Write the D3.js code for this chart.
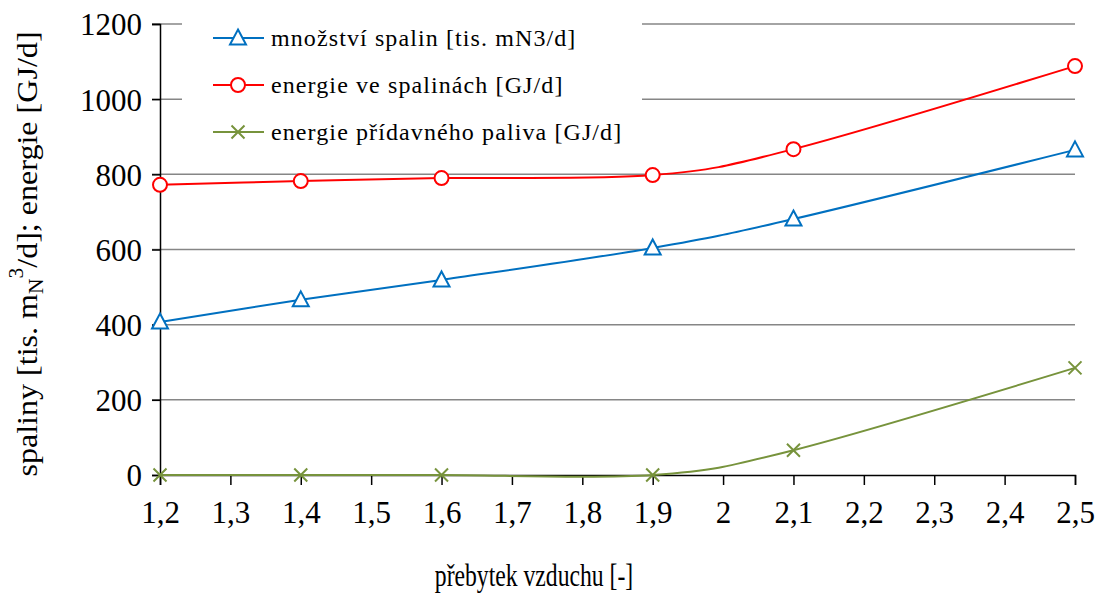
<!DOCTYPE html>
<html>
<head>
<meta charset="utf-8">
<script src="https://cdn.jsdelivr.net/npm/d3@7"></script>
<style>
  body { margin: 0; background: #fff; }
</style>
</head>
<body>
<div id="chart"></div>
<script>
// data
const xValues = [1.2, 1.4, 1.6, 1.9, 2.1, 2.5];
const spaliny = [407, 466, 519, 604, 681, 865];
const energieSpaliny = [772, 782, 790, 798, 867, 1088];
const energiePalivo = [0, 0, 0, 0, 66, 285];
const xTicks = [1.2, 1.3, 1.4, 1.5, 1.6, 1.7, 1.8, 1.9, 2.0, 2.1, 2.2, 2.3, 2.4, 2.5];
const yTicks = [0, 200, 400, 600, 800, 1000, 1200];
const seriesNames = ["množství spalin [tis. mN3/d]", "energie ve spalinách [GJ/d]", "energie přídavného paliva [GJ/d]"];

const colors = ["#0070C0", "#FF0000", "#77933C"];
const symbols = ["triangle", "circle", "cross"];
const FONT = "'Liberation Serif', 'Times New Roman', serif";

const W = 1099, H = 595;
const margin = { left: 160, right: 24, top: 24, bottom: 120 };

const svg = d3.select("#chart").append("svg")
    .attr("width", W).attr("height", H)
    .attr("font-family", FONT);

const x = d3.scaleLinear().domain([1.2, 2.5]).range([margin.left, W - margin.right]);
const y = d3.scaleLinear().domain([0, 1200]).range([H - margin.bottom, margin.top]);

// gridlines
svg.append("g")
    .selectAll("line")
    .data(yTicks.filter(d => d > 0))
    .enter().append("line")
    .attr("x1", x(1.2) - 8).attr("x2", x(2.5))
    .attr("y1", d => y(d)).attr("y2", d => y(d))
    .attr("stroke", "#868686").attr("stroke-width", 1.5);

// y axis
const yAxis = svg.append("g")
    .attr("transform", `translate(${x(1.2)},0)`)
    .call(d3.axisLeft(y).tickValues(yTicks).tickSize(8).tickPadding(10).tickFormat(d3.format("d")));
yAxis.attr("font-family", FONT);
yAxis.select(".domain").attr("stroke", "#000").attr("stroke-width", 1.5);
yAxis.selectAll(".tick line").attr("stroke", "#000").attr("stroke-width", 1.5);
yAxis.selectAll(".tick text").attr("font-size", 31).attr("dy", "0.35em");

// x axis
const xAxis = svg.append("g")
    .attr("transform", `translate(0,${y(0)})`)
    .call(d3.axisBottom(x).tickValues(xTicks).tickSize(10).tickPadding(16)
        .tickFormat(d => d3.format("~g")(d).replace(".", ",")));
xAxis.attr("font-family", FONT);
xAxis.select(".domain").attr("stroke", "#000").attr("stroke-width", 1.5);
xAxis.selectAll(".tick line").attr("stroke", "#000").attr("stroke-width", 1.5);
xAxis.selectAll(".tick text").attr("font-size", 31);

// axis titles (the original text is a bit condensed / stretched)
svg.append("text")
    .attr("transform", "translate(534,586) scale(0.74,1)")
    .attr("text-anchor", "middle").attr("font-size", 32)
    .text("přebytek vzduchu [-]");

const yTitle = svg.append("text")
    .attr("transform", `translate(37,254) rotate(-90) scale(1.07,1)`)
    .attr("text-anchor", "middle").attr("font-size", 30);
yTitle.append("tspan").text("spaliny [tis. m");
yTitle.append("tspan").attr("font-size", 20).attr("dy", 6).text("N");
yTitle.append("tspan").attr("font-size", 20).attr("dy", -20).text("3");
yTitle.append("tspan").attr("dy", 14).text("/d]; energie  [GJ/d]");

// series
const allSeries = [spaliny, energieSpaliny, energiePalivo];
const line = d3.line()
    .x((d, i) => x(xValues[i]))
    .y(d => y(d))
    .curve(d3.curveCatmullRom.alpha(0));

function drawMarker(g, type, color) {
    if (type === "triangle") {
        g.append("path").attr("d", "M0,-8.5 L8,6.5 L-8,6.5 Z")
            .attr("fill", "#fff").attr("stroke", color).attr("stroke-width", 2);
    } else if (type === "circle") {
        g.append("circle").attr("r", 7)
            .attr("fill", "#fff").attr("stroke", color).attr("stroke-width", 2);
    } else {
        g.append("path").attr("d", "M-6.5,-6.5 L6.5,6.5 M-6.5,6.5 L6.5,-6.5")
            .attr("fill", "none").attr("stroke", color).attr("stroke-width", 2);
    }
}

allSeries.forEach((vals, si) => {
    svg.append("path")
        .datum(vals)
        .attr("d", line)
        .attr("fill", "none")
        .attr("stroke", colors[si])
        .attr("stroke-width", 2);
    vals.forEach((v, i) => {
        const g = svg.append("g").attr("transform", `translate(${x(xValues[i])},${y(v)})`);
        drawMarker(g, symbols[si], colors[si]);
    });
});

// legend
const legend = svg.append("g");
legend.append("rect")
    .attr("x", 182).attr("y", 14).attr("width", 460).attr("height", 140)
    .attr("fill", "#fff");
seriesNames.forEach((name, i) => {
    const ly = 38 + i * 47;
    legend.append("line")
        .attr("x1", 213).attr("x2", 264).attr("y1", ly).attr("y2", ly)
        .attr("stroke", colors[i]).attr("stroke-width", 2);
    const g = legend.append("g").attr("transform", `translate(238,${ly})`);
    drawMarker(g, symbols[i], colors[i]);
    legend.append("text")
        .attr("x", 271).attr("y", ly + 8)
        .attr("font-size", 24).attr("letter-spacing", 1.1)
        .text(name);
});
</script>
</body>
</html>
